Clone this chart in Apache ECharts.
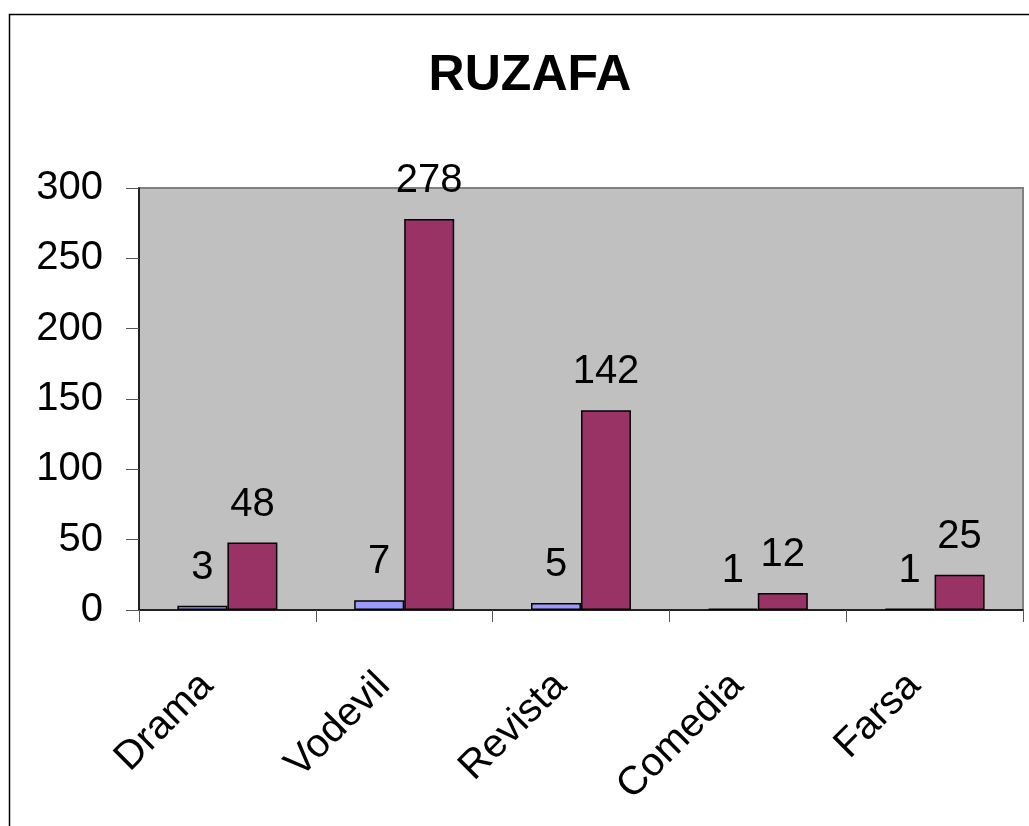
<!DOCTYPE html>
<html><head><meta charset="utf-8">
<script src="https://cdn.jsdelivr.net/npm/echarts@6/dist/echarts.min.js"></script>
<style>html,body{margin:0;padding:0;background:#fff}#c{width:1029px;height:826px}</style>
</head><body><div id="c"></div>
<script>
const categories = ["Drama", "Vodevil", "Revista", "Comedia", "Farsa"];
const seriesA = [3, 7, 5, 1, 1];
const seriesB = [48, 278, 142, 12, 25];
const yTicks = [0, 50, 100, 150, 200, 250, 300];

const FONT = '"Liberation Sans", Arial, sans-serif';
const chart = echarts.init(document.getElementById('c'), null, {renderer: 'canvas'});
const lbl = {show: true, position: 'top', distance: 18, color: '#000', fontSize: 40, fontFamily: FONT};
chart.setOption({
  animation: false,
  backgroundColor: '#fff',
  title: {text: 'RUZAFA', left: 525, top: 46, textAlign: 'center',
    textStyle: {fontSize: 50, fontWeight: 'bold', color: '#000', fontFamily: FONT}},
  grid: {left: 139, right: 6, top: 188, bottom: 216, show: true, backgroundColor: '#C0C0C0', borderColor: '#808080', borderWidth: 2},
  xAxis: {type: 'category', data: categories,
    axisLine: {lineStyle: {color: '#000', width: 1.5}},
    axisTick: {show: true, length: 12, lineStyle: {color: '#555'}},
    axisLabel: {rotate: 45, fontSize: 40, color: '#000', fontFamily: FONT, margin: 49, interval: 0, padding: [0, 29, 0, 0]}},
  yAxis: {type: 'value', min: yTicks[0], max: yTicks[yTicks.length - 1], interval: 50,
    axisLine: {show: true, lineStyle: {color: '#000', width: 1.5}},
    axisTick: {show: true, length: 13, lineStyle: {color: '#555'}},
    splitLine: {show: false},
    axisLabel: {fontSize: 40, color: '#000', fontFamily: FONT, margin: 36}},
  series: [
    {type: 'bar', data: seriesA, barWidth: 50, barGap: '0%',
      itemStyle: {color: '#9999FF', borderColor: '#000', borderWidth: 1.5}, label: lbl},
    {type: 'bar', data: seriesB, barWidth: 50, barGap: '0%',
      itemStyle: {color: '#993366', borderColor: '#000', borderWidth: 1.5}, label: lbl}
  ],
  graphic: [{type: 'rect', shape: {x: 9.5, y: 14.5, width: 1040, height: 840},
    style: {fill: 'none', stroke: '#000', lineWidth: 1.5}, z: 100}]
});
</script></body></html>
